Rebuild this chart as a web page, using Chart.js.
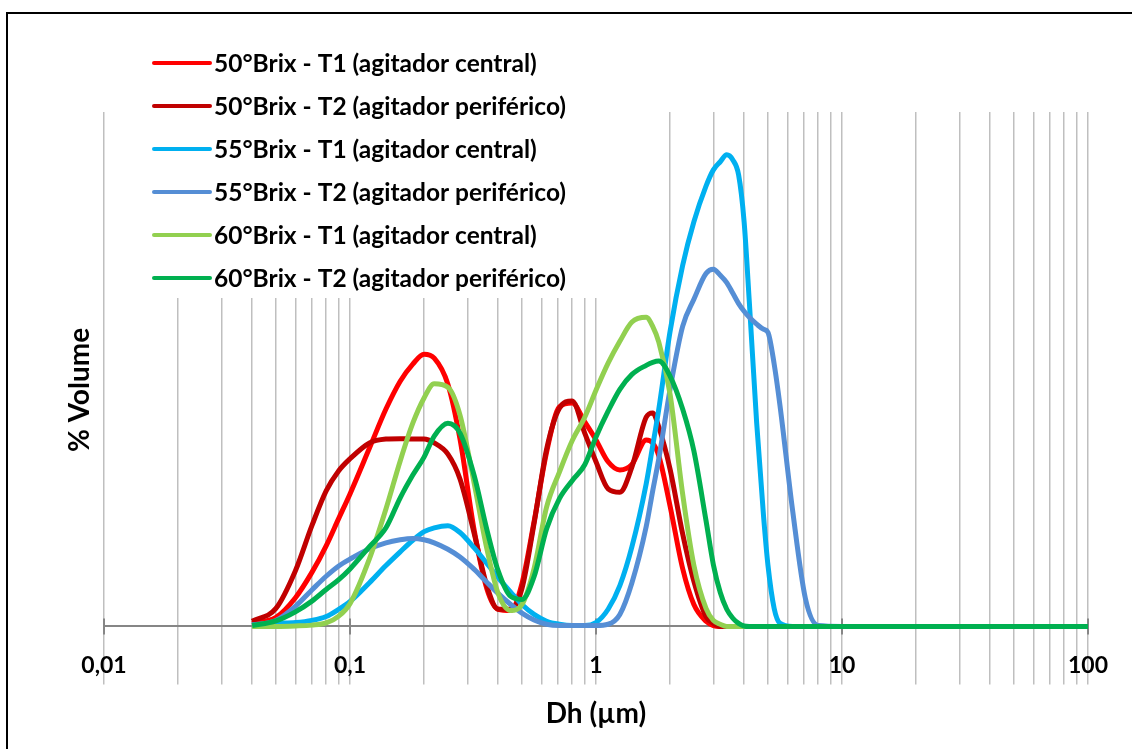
<!DOCTYPE html>
<html lang="pt">
<head>
    <meta charset="UTF-8">
    <title>Distribuição de tamanho - Dh</title>
    <script src="https://cdn.jsdelivr.net/npm/chart.js"></script>
    <style>
        html, body { margin: 0; padding: 0; background: #fff; overflow: hidden; }
        #frame { position: absolute; left: 6px; top: 12px; width: 1200px; height: 800px; border: 2px solid #000; }
        #wrap { position: absolute; left: 0; top: 0; width: 1132px; height: 749px; }
    </style>
</head>
<body>
    <div id="frame"></div>
    <div id="wrap"><canvas id="dhChart" width="1132" height="749"></canvas></div>

    <script>
        // diâmetro hidrodinâmico (µm)
        const dh = [0.04, 0.05, 0.06, 0.07, 0.08, 0.09, 0.1, 0.12, 0.14, 0.16, 0.18,
            0.2, 0.22, 0.25, 0.28, 0.32, 0.36, 0.4, 0.45, 0.5, 0.56, 0.63, 0.71, 0.8, 0.9,
            1, 1.12, 1.25, 1.4, 1.6, 1.7, 1.8, 2, 2.25, 2.5, 2.8, 3, 3.2, 3.4, 3.6, 3.8,
            4, 4.2, 4.5, 4.8, 5, 5.3, 5.6, 6.3, 7.1, 8, 10, 100];

        // % volume de cada amostra
        const brix50T1 = [0.07, 0.21, 0.67, 1.26, 1.88, 2.52, 3.09, 4.16, 5.07, 5.72, 6.12,
            6.35, 6.26, 5.65, 4.37, 2.23, 0.88, 0.40, 0.37, 1.00, 2.44, 4.07, 5.12, 5.21, 4.77,
            4.35, 3.84, 3.65, 3.78, 4.35, 4.28, 3.98, 2.81, 1.35, 0.51, 0.12, 0.02, 0, 0, 0, 0,
            0, 0, 0, 0, 0, 0, 0, 0, 0, 0, 0, 0];
        const brix50T2 = [0.12, 0.42, 1.30, 2.35, 3.16, 3.63, 3.91, 4.28, 4.37, 4.38, 4.37,
            4.37, 4.28, 4.02, 3.44, 2.16, 0.95, 0.40, 0.40, 0.88, 2.40, 4.14, 5.09, 5.26, 4.51,
            3.84, 3.21, 3.13, 3.72, 4.88, 4.98, 4.65, 3.67, 2.16, 1.05, 0.23, 0.07, 0, 0, 0, 0,
            0, 0, 0, 0, 0, 0, 0, 0, 0, 0, 0, 0];
        const brix55T1 = [0.03, 0.07, 0.09, 0.14, 0.23, 0.40, 0.58, 1.02, 1.42, 1.74, 2.01,
            2.21, 2.30, 2.35, 2.19, 1.83, 1.47, 1.14, 0.80, 0.51, 0.28, 0.12, 0.05, 0.02, 0.02,
            0.09, 0.40, 0.95, 1.86, 3.33, 4.21, 5.07, 6.88, 8.42, 9.44, 10.27, 10.65, 10.84, 11.00, 10.88, 10.53,
            9.44, 7.57, 4.74, 2.56, 1.43, 0.42, 0.07, 0, 0, 0, 0, 0];
        const brix55T2 = [0.03, 0.14, 0.47, 0.85, 1.17, 1.41, 1.57, 1.81, 1.95, 2.02, 2.05,
            2.02, 1.95, 1.80, 1.62, 1.33, 1.03, 0.77, 0.51, 0.31, 0.15, 0.05, 0.02, 0.02, 0.02,
            0.02, 0.05, 0.28, 1.02, 2.33, 3.16, 3.91, 5.53, 7.00, 7.63, 8.23, 8.33, 8.19, 8.02, 7.77, 7.53,
            7.35, 7.21, 7.05, 6.93, 6.86, 6.12, 5.14, 2.70, 0.65, 0.02, 0, 0];
        const brix60T1 = [0, 0, 0.01, 0.03, 0.08, 0.24, 0.53, 1.58, 2.74, 3.86, 4.74,
            5.33, 5.66, 5.58, 4.93, 3.33, 1.81, 0.77, 0.37, 0.51, 1.35, 2.79, 3.60, 4.33, 4.88,
            5.51, 6.14, 6.65, 7.10, 7.21, 7.00, 6.63, 5.42, 3.09, 1.42, 0.42, 0.14, 0.05, 0, 0, 0,
            0, 0, 0, 0, 0, 0, 0, 0, 0, 0, 0, 0];
        const brix60T2 = [0.02, 0.13, 0.34, 0.59, 0.86, 1.09, 1.34, 1.86, 2.30, 3.00, 3.53,
            3.95, 4.44, 4.74, 4.51, 3.51, 2.26, 1.30, 0.70, 0.63, 1.16, 2.28, 2.98, 3.40, 3.77,
            4.42, 5.02, 5.53, 5.88, 6.09, 6.16, 6.19, 5.84, 5.07, 4.09, 2.47, 1.44, 0.79, 0.40, 0.19, 0.07,
            0.01, 0, 0, 0, 0, 0, 0, 0, 0, 0, 0, 0];

        const seriesNames = [
            '50°Brix - T1 (agitador central)',
            '50°Brix - T2 (agitador periférico)',
            '55°Brix - T1 (agitador central)',
            '55°Brix - T2 (agitador periférico)',
            '60°Brix - T1 (agitador central)',
            '60°Brix - T2 (agitador periférico)'
        ];
        const seriesValues = [brix50T1, brix50T2, brix55T1, brix55T2, brix60T1, brix60T2];
        const seriesColors = ['#ff0000', '#c00000', '#00b0f0', '#558ed5', '#92d050', '#00b050'];

        // eixo x: rótulos só nas décadas
        const xMajor = [0.01, 0.1, 1, 10, 100];
        const xMajorLabels = ['0,01', '0,1', '1', '10', '100'];

        const FONT = "Lato, 'Open Sans', sans-serif";

        // linhas de grade em 1..9 de cada década
        const xGrid = [];
        for (let i = 0; i < xMajor.length - 1; i++) {
            for (let k = 1; k <= 9; k++) {
                xGrid.push(Number((k * xMajor[i]).toPrecision(2)));
            }
        }
        xGrid.push(xMajor[xMajor.length - 1]);

        // legenda desenhada dentro da área do gráfico, com fundo branco
        const legendBox = {
            id: 'legendBox',
            beforeDatasetsDraw(chart) {
                const c = chart.ctx;
                c.save();
                c.fillStyle = '#ffffff';
                c.fillRect(140, 40, 468, 258);
                c.font = 'bold 24.5px ' + FONT;
                c.textBaseline = 'alphabetic';
                c.fillStyle = '#000';
                let widest = 0;
                seriesNames.forEach(n => { widest = Math.max(widest, c.measureText(n).width); });
                const sx = Math.min(1, 354 / widest);
                seriesNames.forEach((name, i) => {
                    const y = 63 + i * 43;
                    c.strokeStyle = seriesColors[i];
                    c.lineWidth = 4;
                    c.lineCap = 'round';
                    c.beginPath();
                    c.moveTo(154, y);
                    c.lineTo(210, y);
                    c.stroke();
                    c.save();
                    c.translate(214, y + 8.6);
                    c.scale(sx, 1);
                    c.fillText(name, 0, 0);
                    c.restore();
                });
                c.restore();
            }
        };

        // título do eixo y e marcas das décadas
        const axisExtras = {
            id: 'axisExtras',
            beforeDatasetsDraw(chart) {
                const c = chart.ctx;
                const xs = chart.scales.x;
                const bottom = chart.chartArea.bottom;
                c.save();
                c.strokeStyle = '#868686';
                c.lineWidth = 2;
                xMajor.forEach(v => {
                    const px = Math.round(xs.getPixelForValue(v));
                    c.beginPath();
                    c.moveTo(px, bottom - 8);
                    c.lineTo(px, bottom + 8);
                    c.stroke();
                });
                c.translate(80, 390);
                c.rotate(-Math.PI / 2);
                c.font = 'bold 28px ' + FONT;
                c.fillStyle = '#000';
                c.textAlign = 'center';
                c.textBaseline = 'middle';
                c.fillText('% Volume', 0, 0);
                c.restore();
            }
        };

        const ctx = document.getElementById('dhChart').getContext('2d');
        new Chart(ctx, {
            type: 'line',
            data: {
                datasets: seriesNames.map((name, i) => ({
                    label: name,
                    data: dh.map((x, j) => ({ x: x, y: seriesValues[i][j] })),
                    borderColor: seriesColors[i],
                    backgroundColor: seriesColors[i],
                    borderWidth: 5,
                    pointRadius: 0,
                    fill: false,
                    tension: 0.4,
                    cubicInterpolationMode: 'monotone',
                    clip: false,
                    order: seriesNames.length - i
                }))
            },
            options: {
                responsive: false,
                animation: false,
                layout: { padding: { left: 104, right: 44, top: 112, bottom: 0 } },
                plugins: {
                    legend: { display: false },
                    tooltip: { enabled: false }
                },
                scales: {
                    x: {
                        type: 'logarithmic',
                        min: 0.01,
                        max: 100,
                        afterBuildTicks: (scale) => {
                            scale.ticks = xGrid.map(v => ({ value: v }));
                        },
                        ticks: {
                            autoSkip: false,
                            maxRotation: 0,
                            minRotation: 0,
                            padding: -33,
                            color: '#000',
                            font: { family: FONT, size: 23, weight: 'bold' },
                            callback: (v) => {
                                const i = xMajor.indexOf(v);
                                return i >= 0 ? xMajorLabels[i] : '';
                            }
                        },
                        grid: {
                            color: '#bfbfbf',
                            lineWidth: 1.5,
                            drawTicks: true,
                            tickLength: 58,
                            tickColor: '#bfbfbf'
                        },
                        border: { display: true, color: '#868686', width: 2 },
                        title: {
                            display: true,
                            text: 'Dh (µm)',
                            color: '#000',
                            padding: { top: 51.6, bottom: 17.8 },
                            font: { family: FONT, size: 28, weight: 'bold' }
                        }
                    },
                    y: {
                        display: false,
                        min: 0,
                        max: 12
                    }
                }
            },
            plugins: [legendBox, axisExtras]
        });
    </script>
</body>
</html>
